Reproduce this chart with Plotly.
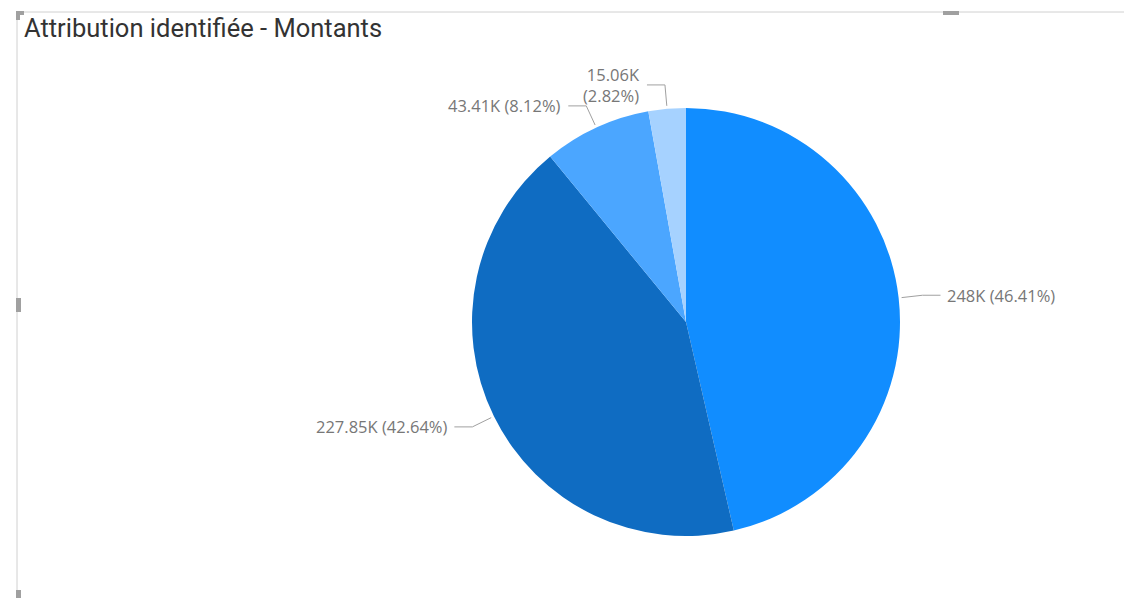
import math
import plotly.graph_objects as go

# Data
categories = ["A", "B", "C", "D"]
values = [248000, 227850, 43410, 15060]
value_labels = ["248K", "227.85K", "43.41K", "15.06K"]
colors = ["#118DFF", "#0F6CC2", "#4BA6FF", "#A6D2FF"]
title_text = "Attribution identifiée - Montants"

W, H = 1124, 598
cx, cy, R = 686, 322, 214  # pixel layout of the pie

total = sum(values)
fracs = [v / total for v in values]

fig = go.Figure()
fig.add_trace(go.Pie(
    labels=categories, values=values, sort=False, direction="clockwise",
    rotation=0, marker=dict(colors=colors, line=dict(width=0)),
    textinfo="none", hoverinfo="label+value+percent", showlegend=False,
    domain=dict(x=[(cx - R) / W, (cx + R) / W], y=[(H - cy - R) / H, (H - cy + R) / H]),
))

shapes = []
annotations = []
cum = 0.0
for f, vl in zip(fracs, value_labels):
    mid = (cum + f / 2) * 2 * math.pi
    cum += f
    dx, dy = math.sin(mid), -math.cos(mid)
    ex, ey = cx + (R + 3) * dx, cy + (R + 3) * dy
    bx, by = cx + (R + 24) * dx, cy + (R + 24) * dy
    side = 1 if dx >= 0 else -1
    hx = bx + 18 * side
    path = f"M {ex/W} {1-ey/H} L {bx/W} {1-by/H} L {hx/W} {1-by/H}"
    shapes.append(dict(type="path", xref="paper", yref="paper", path=path,
                       line=dict(color="#A0A0A0", width=1)))
    pct = f"({f*100:.2f}%)"
    txt = f"{vl}<br>{pct}" if f < 0.05 else f"{vl} {pct}"
    annotations.append(dict(
        x=(hx + 5 * side) / W, y=1 - by / H, xref="paper", yref="paper",
        text=txt, showarrow=False, xanchor="left" if side > 0 else "right",
        yanchor="middle", align="left" if side > 0 else "right",
        font=dict(family="Open Sans", size=16.5, color="#777777")))

annotations.append(dict(
    x=22 / W, y=1 - 28 / H, xref="paper", yref="paper", text=title_text,
    showarrow=False, xanchor="left", yanchor="middle",
    font=dict(family="Roboto", size=25.5, color="#333333")))

# frame and handles
def px(x):
    return x / W
def py(y):
    return 1 - y / H

shapes += [
    dict(type="line", xref="paper", yref="paper", x0=px(17), x1=px(1124), y0=py(12), y1=py(12),
         line=dict(color="#D0D0D0", width=1)),
    dict(type="line", xref="paper", yref="paper", x0=px(17), x1=px(17), y0=py(12), y1=py(598),
         line=dict(color="#D0D0D0", width=1)),
    dict(type="rect", xref="paper", yref="paper", x0=px(943), x1=px(959), y0=py(11), y1=py(15),
         fillcolor="#A0A0A0", line=dict(width=0)),
    dict(type="rect", xref="paper", yref="paper", x0=px(16), x1=px(21), y0=py(298), y1=py(312),
         fillcolor="#A0A0A0", line=dict(width=0)),
    dict(type="rect", xref="paper", yref="paper", x0=px(16), x1=px(21), y0=py(590), y1=py(598),
         fillcolor="#A0A0A0", line=dict(width=0)),
    dict(type="rect", xref="paper", yref="paper", x0=px(16), x1=px(24), y0=py(11), y1=py(15),
         fillcolor="#A0A0A0", line=dict(width=0)),
    dict(type="rect", xref="paper", yref="paper", x0=px(16), x1=px(20), y0=py(11), y1=py(20),
         fillcolor="#A0A0A0", line=dict(width=0)),
]

fig.update_layout(
    width=W, height=H, margin=dict(l=0, r=0, t=0, b=0),
    paper_bgcolor="white", plot_bgcolor="white",
    shapes=shapes, annotations=annotations,
)
fig.write_html("out.html")
